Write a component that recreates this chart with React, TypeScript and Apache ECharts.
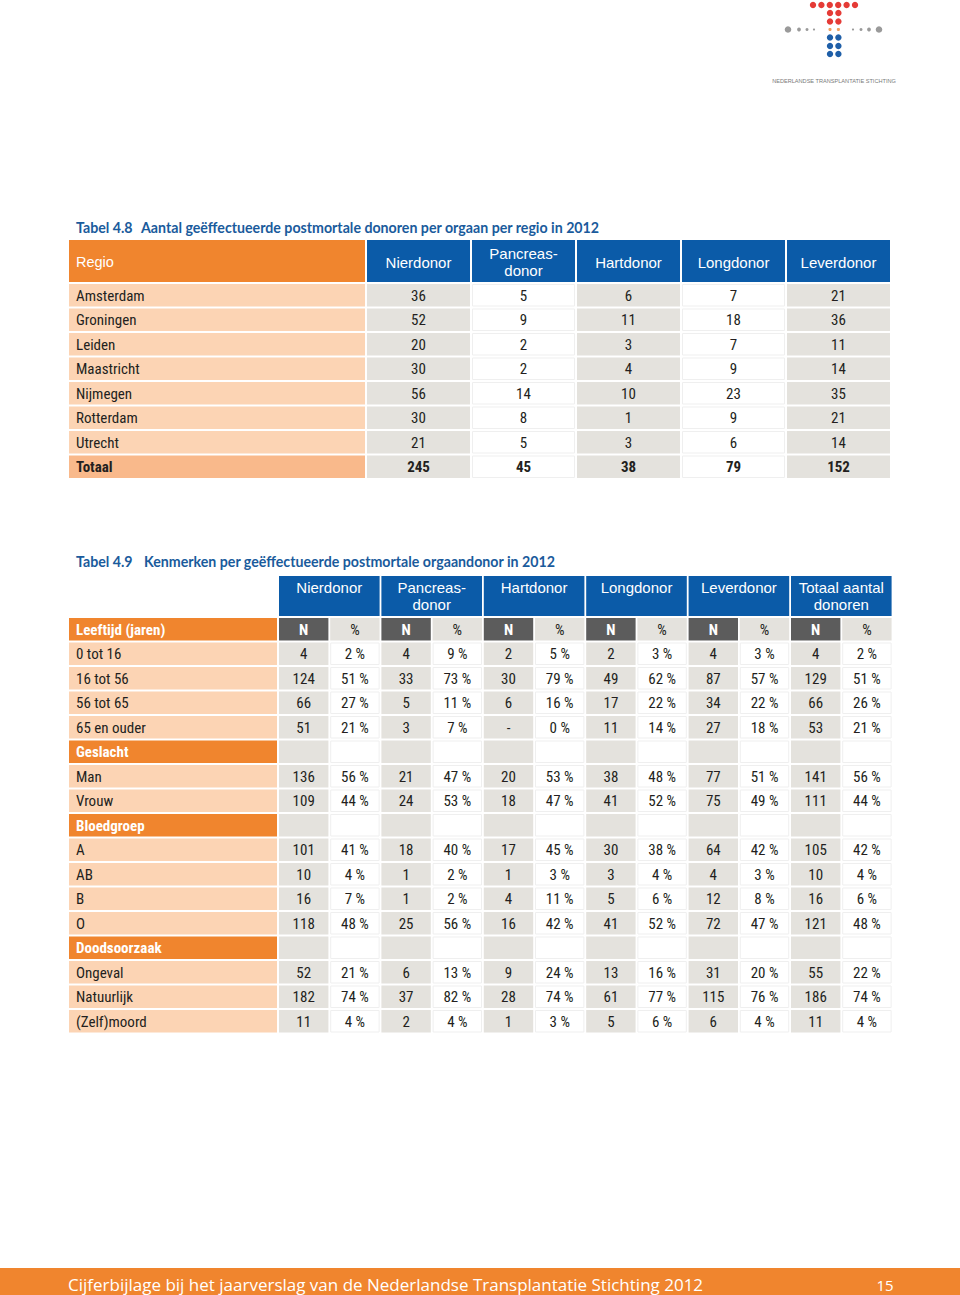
import React, { useEffect, useRef } from "react";
import * as echarts from "echarts";

// ---------- Table 4.8 data ----------
const T1_TITLE_NO = "Tabel 4.8";
const T1_TITLE = "Aantal geëffectueerde postmortale donoren per orgaan per regio in 2012";
const T1_HEAD_LABEL = "Regio";
const T1_COLUMNS = ["Nierdonor", "Pancreas-\ndonor", "Hartdonor", "Longdonor", "Leverdonor"];
const T1_REGIONS = ["Amsterdam", "Groningen", "Leiden", "Maastricht", "Nijmegen", "Rotterdam", "Utrecht", "Totaal"];
const T1_NIER = [36, 52, 20, 30, 56, 30, 21, 245];
const T1_PANCREAS = [5, 9, 2, 2, 14, 8, 5, 45];
const T1_HART = [6, 11, 3, 4, 10, 1, 3, 38];
const T1_LONG = [7, 18, 7, 9, 23, 9, 6, 79];
const T1_LEVER = [21, 36, 11, 14, 35, 21, 14, 152];

// ---------- Table 4.9 data ----------
const T2_TITLE_NO = "Tabel 4.9";
const T2_TITLE = "Kenmerken per geëffectueerde postmortale orgaandonor in 2012";
const T2_GROUPS = ["Nierdonor", "Pancreas-\ndonor", "Hartdonor", "Longdonor", "Leverdonor", "Totaal aantal\ndonoren"];
const T2_SECTIONS = ["Leeftijd (jaren)", "Geslacht", "Bloedgroep", "Doodsoorzaak"];
const T2_LEEFTIJD = ["0 tot 16", "16 tot 56", "56 tot 65", "65 en ouder"];
const T2_GESLACHT = ["Man", "Vrouw"];
const T2_BLOED = ["A", "AB", "B", "O"];
const T2_DOOD = ["Ongeval", "Natuurlijk", "(Zelf)moord"];
// values per group, in the order of the data rows above (13 rows)
const NIER_N = [4, 124, 66, 51, 136, 109, 101, 10, 16, 118, 52, 182, 11];
const NIER_P = [2, 51, 27, 21, 56, 44, 41, 4, 7, 48, 21, 74, 4];
const PANC_N = [4, 33, 5, 3, 21, 24, 18, 1, 1, 25, 6, 37, 2];
const PANC_P = [9, 73, 11, 7, 47, 53, 40, 2, 2, 56, 13, 82, 4];
const HART_N = [2, 30, 6, null, 20, 18, 17, 1, 4, 16, 9, 28, 1];
const HART_P = [5, 79, 16, 0, 53, 47, 45, 3, 11, 42, 24, 74, 3];
const LONG_N = [2, 49, 17, 11, 38, 41, 30, 3, 5, 41, 13, 61, 5];
const LONG_P = [3, 62, 22, 14, 48, 52, 38, 4, 6, 52, 16, 77, 6];
const LEVER_N = [4, 87, 34, 27, 77, 75, 64, 4, 12, 72, 31, 115, 6];
const LEVER_P = [3, 57, 22, 18, 51, 49, 42, 3, 8, 47, 20, 76, 4];
const TOT_N = [4, 129, 66, 53, 141, 111, 105, 10, 16, 121, 55, 186, 11];
const TOT_P = [2, 51, 26, 21, 56, 44, 42, 4, 6, 48, 22, 74, 4];

const FOOTER = "Cijferbijlage bij het jaarverslag van de Nederlandse Transplantatie Stichting 2012";
const PAGE_NO = "15";
const LOGO_TEXT = "NEDERLANDSE TRANSPLANTATIE STICHTING";

// ---------- style ----------
const ORANGE = "#f0852e";
const LIGHT = "#fcd4b4";
const TOTAL_BG = "#f9b98b";
const BLUE = "#0b5ba8";
const GRAY = "#e4e2dd";
const DARK = "#5c5c5c";
const TXT = "#231f20";
const TITLE_BLUE = "#1a5b9c";
const NARROW = "'Roboto Condensed','Liberation Sans Narrow','DejaVu Sans Condensed','Arial Narrow',Roboto,sans-serif";
const SANS = "'Liberation Sans',Arial,sans-serif";
const TITLE_FONT = "Lato,'Open Sans',sans-serif";
const FOOT_FONT = "'Open Sans',Lato,sans-serif";

function rect(x: number, y: number, w: number, h: number, fill: string, stroke?: string) {
  return {
    type: "rect",
    shape: { x, y, width: w, height: h },
    style: stroke ? { fill, stroke, lineWidth: 1 } : { fill },
    silent: true,
  };
}
function text(t: string, x: number, y: number, o: any = {}) {
  return {
    type: "text",
    x,
    y,
    silent: true,
    style: {
      text: t,
      fill: o.fill || TXT,
      fontSize: o.size || 15,
      fontFamily: o.family || NARROW,
      fontWeight: o.weight || "normal",
      align: o.align || "left",
      verticalAlign: o.va || "middle",
      lineHeight: o.lh || 17,
    },
  };
}

function buildElements() {
  const els: any[] = [];

  // ----- logo -----
  const red = "#e53b36", lblue = "#1f5fa8";
  for (let i = 0; i < 6; i++) els.push({ type: "circle", shape: { cx: 813 + i * 8.4, cy: 5, r: 3.2 }, style: { fill: red } });
  [13, 21.5].forEach((cy) => [830, 838.4].forEach((cx) => els.push({ type: "circle", shape: { cx, cy, r: 3.2 }, style: { fill: red } })));
  [830, 838.4].forEach((cx) => els.push({ type: "circle", shape: { cx, cy: 29.5, r: 1.6 }, style: { fill: "#f2a15f" } }));
  [37.5, 46, 54].forEach((cy) => [830, 838.4].forEach((cx) => els.push({ type: "circle", shape: { cx, cy, r: 3.2 }, style: { fill: lblue } })));
  [[788, 3.3], [799, 1.9], [807, 1.5], [814, 1.1], [853, 1.1], [861, 1.5], [869, 1.9], [879, 3.3]].forEach(([cx, r]) =>
    els.push({ type: "circle", shape: { cx, cy: 29.5, r }, style: { fill: "#9a9a9a" } })
  );
  els.push({
    type: "text", x: 834, y: 81, style: { text: LOGO_TEXT, fill: "#7a7a7a", fontSize: 5.6, fontFamily: SANS, align: "center", verticalAlign: "middle" },
  });

  // ----- Table 4.8 -----
  els.push(text(T1_TITLE_NO, 76, 227, { family: TITLE_FONT, weight: "bold", size: 14.2, fill: TITLE_BLUE }));
  els.push(text(T1_TITLE, 141, 227, { family: TITLE_FONT, weight: "bold", size: 14.2, fill: TITLE_BLUE }));

  const t1x = 69, t1lw = 296, t1cx = 367, t1pitch = 105, t1cw = 103;
  const t1hy = 240, t1hh = 42, t1ry = 284, t1rp = 24.5, t1rh = 22.5;
  els.push(rect(t1x, t1hy, t1lw, t1hh, ORANGE));
  els.push(text(T1_HEAD_LABEL, 76, t1hy + t1hh / 2 + 1, { family: SANS, size: 14.5, fill: "#fff" }));
  T1_COLUMNS.forEach((c, i) => {
    const x = t1cx + i * t1pitch;
    els.push(rect(x, t1hy, t1cw, t1hh, BLUE));
    els.push(text(c, x + t1cw / 2, t1hy + t1hh / 2 + 1, { family: SANS, size: 15, fill: "#fff", align: "center" }));
  });
  const t1cols = [T1_NIER, T1_PANCREAS, T1_HART, T1_LONG, T1_LEVER];
  T1_REGIONS.forEach((r, j) => {
    const y = t1ry + j * t1rp;
    const isTot = j === T1_REGIONS.length - 1;
    els.push(rect(t1x, y, t1lw, t1rh, isTot ? TOTAL_BG : LIGHT));
    els.push(text(r, 76, y + t1rh / 2 + 0.5, { weight: isTot ? "bold" : "normal" }));
    t1cols.forEach((col, i) => {
      const x = t1cx + i * t1pitch;
      if (i % 2 === 0) els.push(rect(x, y, t1cw, t1rh, GRAY));
      else els.push(rect(x + 0.5, y + 0.5, t1cw - 1, t1rh - 1, "#fff", "#efefef"));
      els.push(text(String(col[j]), x + t1cw / 2, y + t1rh / 2 + 0.5, { align: "center", weight: isTot ? "bold" : "normal" }));
    });
  });

  // ----- Table 4.9 -----
  els.push(text(T2_TITLE_NO, 76, 561, { family: TITLE_FONT, weight: "bold", size: 14.2, fill: TITLE_BLUE }));
  els.push(text(T2_TITLE, 144, 561, { family: TITLE_FONT, weight: "bold", size: 14.2, fill: TITLE_BLUE }));

  const t2x = 69, t2lw = 208, t2gx = 279, t2gp = 102.4, t2sp = 51.2, t2sw = 49.4;
  const t2hy = 576, t2hh = 40, t2ry = 618, t2rp = 24.5, t2rh = 22.5;
  T2_GROUPS.forEach((g, i) => {
    const x = t2gx + i * t2gp;
    els.push(rect(x, t2hy, t2sp + t2sw, t2hh, BLUE));
    els.push(text(g, x + (t2sp + t2sw) / 2, t2hy + 3, { family: SANS, size: 15, fill: "#fff", align: "center", va: "top" }));
  });
  const nCols = [NIER_N, PANC_N, HART_N, LONG_N, LEVER_N, TOT_N];
  const pCols = [NIER_P, PANC_P, HART_P, LONG_P, LEVER_P, TOT_P];
  const groups = [T2_LEEFTIJD, T2_GESLACHT, T2_BLOED, T2_DOOD];
  let row = 0;
  let dataIdx = 0;
  T2_SECTIONS.forEach((sec, s) => {
    const y = t2ry + row * t2rp;
    els.push(rect(t2x, y, t2lw, t2rh, ORANGE));
    els.push(text(sec, 76, y + t2rh / 2 + 0.5, { fill: "#fff", weight: "bold" }));
    T2_GROUPS.forEach((_, i) => {
      const x = t2gx + i * t2gp;
      if (s === 0) {
        els.push(rect(x, y, t2sw, t2rh, DARK));
        els.push(text("N", x + t2sw / 2, y + t2rh / 2 + 0.5, { fill: "#fff", weight: "bold", align: "center" }));
        els.push(rect(x + t2sp, y, t2sw, t2rh, GRAY));
        els.push(text("%", x + t2sp + t2sw / 2, y + t2rh / 2 + 0.5, { align: "center" }));
      } else {
        els.push(rect(x, y, t2sw, t2rh, GRAY));
        els.push(rect(x + t2sp + 0.5, y + 0.5, t2sw - 1, t2rh - 1, "#fff", "#efefef"));
      }
    });
    row++;
    groups[s].forEach((lab) => {
      const yy = t2ry + row * t2rp;
      els.push(rect(t2x, yy, t2lw, t2rh, LIGHT));
      els.push(text(lab, 76, yy + t2rh / 2 + 0.5));
      T2_GROUPS.forEach((_, i) => {
        const x = t2gx + i * t2gp;
        const nv = nCols[i][dataIdx];
        const pv = pCols[i][dataIdx];
        els.push(rect(x, yy, t2sw, t2rh, GRAY));
        els.push(text(nv === null ? "-" : String(nv), x + t2sw / 2, yy + t2rh / 2 + 0.5, { align: "center" }));
        els.push(rect(x + t2sp + 0.5, yy + 0.5, t2sw - 1, t2rh - 1, "#fff", "#efefef"));
        els.push(text(pv + " %", x + t2sp + t2sw / 2, yy + t2rh / 2 + 0.5, { align: "center" }));
      });
      row++;
      dataIdx++;
    });
  });

  // ----- footer -----
  els.push(rect(0, 1268, 960, 27, ORANGE));
  els.push(text(FOOTER, 68, 1284.5, { family: FOOT_FONT, size: 17, fill: "#fff" }));
  els.push(text(PAGE_NO, 885, 1285, { family: FOOT_FONT, size: 15, fill: "#fff", align: "center" }));

  return els;
}

export default function App() {
  const ref = useRef<HTMLDivElement>(null);
  useEffect(() => {
    document.body.style.margin = "0";
    const chart = echarts.init(ref.current!, null, { renderer: "svg" });
    chart.setOption({
      animation: false,
      backgroundColor: "#ffffff",
      graphic: { elements: buildElements() },
    });
    return () => chart.dispose();
  }, []);
  return <div ref={ref} style={{ width: 960, height: 1295 }} />;
}
